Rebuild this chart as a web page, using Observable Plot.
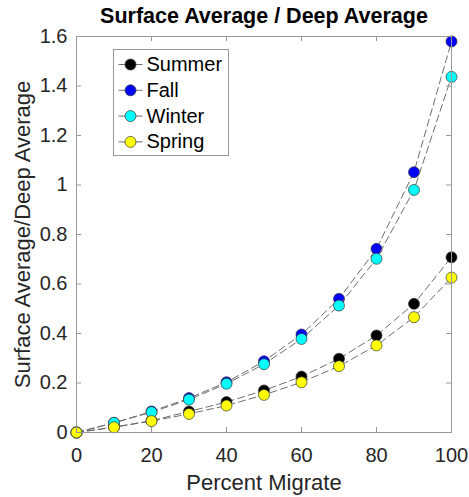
<!DOCTYPE html>
<html><head><meta charset="utf-8">
<script src="https://cdn.jsdelivr.net/npm/d3@7"></script>
<script src="https://cdn.jsdelivr.net/npm/@observablehq/plot@0.6"></script>
<style>body{margin:0;background:#fff}</style>
</head><body><div id="chart"></div>
<script>
const percent = [0,10,20,30,40,50,60,70,80,90,100];
const summer = [0,0.022,0.048,0.085,0.123,0.170,0.226,0.298,0.392,0.520,0.708];
const fall   = [0,0.039,0.085,0.139,0.203,0.288,0.396,0.540,0.742,1.052,1.580];
const winter = [0,0.039,0.082,0.133,0.197,0.276,0.378,0.513,0.702,0.980,1.437];
const spring = [0,0.021,0.046,0.075,0.109,0.152,0.203,0.268,0.352,0.466,0.626];
const seasons = ["Summer","Fall","Winter","Spring"];
const seriesColors = ["#000000","#0000ff","#00ffff","#ffff00"];
const xTicks = [0,20,40,60,80,100];
const yTicks = [0,0.2,0.4,0.6,0.8,1,1.2,1.4,1.6];
const titleText = "Surface Average / Deep Average";
const xLabel = "Percent Migrate";
const yLabel = "Surface Average/Deep Average";

const W = 469, H = 497;
const mL = 76, mR = 18, mT = 36, mB = 65;
const fw = W - mL - mR, fh = H - mT - mB;
const seriesValues = [summer, fall, winter, spring];
const font = "Liberation Sans, Arial, Helvetica, sans-serif";
const axisGray = "#999";
const lineGray = "#6e6e6e";

const marks = [];
seasons.forEach((s, i) => {
  const data = percent.map((p, j) => ({x: p, y: seriesValues[i][j]}));
  marks.push(Plot.line(data, {x: "x", y: "y", stroke: lineGray, strokeWidth: 1, strokeDasharray: "7,4"}));
  marks.push(Plot.dot(data, {x: "x", y: "y", r: 5.5, fill: seriesColors[i], stroke: "#333", strokeWidth: 0.7}));
});
marks.push(Plot.frame({stroke: axisGray, strokeWidth: 1}));
marks.push(Plot.tickX(xTicks, {x: d => d, stroke: axisGray, insetTop: fh - 5}));
marks.push(Plot.tickX(xTicks, {x: d => d, stroke: axisGray, insetBottom: fh - 5}));
marks.push(Plot.tickY(yTicks, {y: d => d, stroke: axisGray, insetRight: fw - 5}));
marks.push(Plot.tickY(yTicks, {y: d => d, stroke: axisGray, insetLeft: fw - 5}));
marks.push(Plot.axisX(xTicks, {anchor: "bottom", tickSize: 0, tickPadding: 15, fontSize: 20, fill: "#262626", label: null, tickFormat: d => String(d)}));
marks.push(Plot.axisY(yTicks, {anchor: "left", tickSize: 0, tickPadding: 9, fontSize: 20, fill: "#262626", label: null, tickFormat: d => String(d)}));
marks.push(Plot.text([titleText], {frameAnchor: "top", dy: -20, lineAnchor: "middle", textAnchor: "middle", fontSize: 21.5, fontWeight: "bold", fill: "#000"}));
marks.push(Plot.text([xLabel], {frameAnchor: "bottom", dy: 50, lineAnchor: "middle", textAnchor: "middle", fontSize: 22, fill: "#262626"}));
marks.push(Plot.text([yLabel], {frameAnchor: "left", dx: -54, rotate: -90, lineAnchor: "middle", textAnchor: "middle", fontSize: 22, fill: "#262626"}));
marks.push(Plot.frame({fill: "white", stroke: axisGray, insetLeft: 37, insetTop: 13, insetRight: fw - 152, insetBottom: fh - 119}));
const lineSymbol = {draw(ctx) { ctx.moveTo(-12, 0); ctx.lineTo(12, 0); }};
seasons.forEach((s, i) => {
  const dy = 28 + i * 25.8;
  marks.push(Plot.dot([s], {frameAnchor: "top-left", dx: 54, dy, symbol: lineSymbol, stroke: lineGray, strokeWidth: 1, fill: "none"}));
  marks.push(Plot.dot([s], {frameAnchor: "top-left", dx: 54, dy, r: 5.5, fill: seriesColors[i], stroke: "#333", strokeWidth: 0.7}));
  marks.push(Plot.text([s], {frameAnchor: "top-left", dx: 70, dy, text: d => d, textAnchor: "start", lineAnchor: "middle", fontSize: 20, fill: "#000"}));
});

const chart = Plot.plot({
  width: W, height: H,
  marginLeft: mL, marginRight: mR, marginTop: mT, marginBottom: mB,
  style: {fontFamily: font, background: "#fff", overflow: "visible"},
  x: {domain: [0, 100], axis: null},
  y: {domain: [0, 1.6], axis: null},
  marks
});
document.getElementById("chart").appendChild(chart);
</script>
</body></html>
